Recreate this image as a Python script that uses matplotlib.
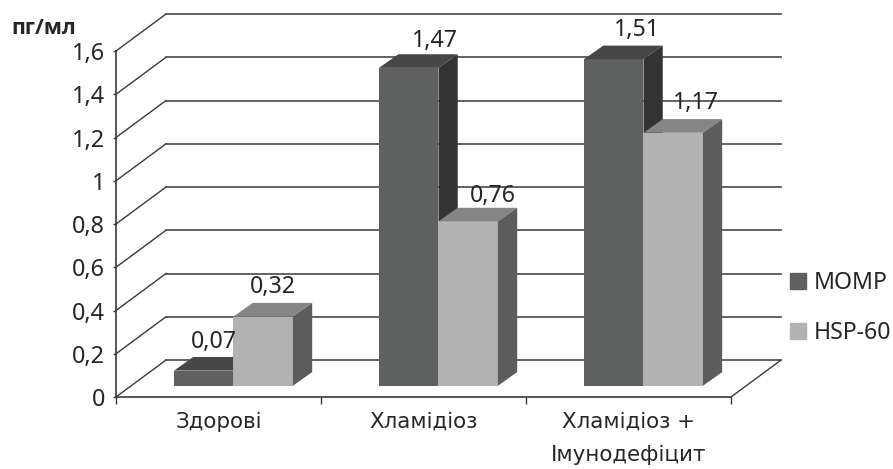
import numpy as np
import matplotlib
matplotlib.use("Agg")
import matplotlib.pyplot as plt
from matplotlib.patches import Patch

categories = ["Здорові", "Хламідіоз", "Хламідіоз +\nІмунодефіцит"]
momp = [0.07, 1.47, 1.51]
hsp60 = [0.32, 0.76, 1.17]
momp_labels = ["0,07", "1,47", "1,51"]
hsp60_labels = ["0,32", "0,76", "1,17"]
y_ticks = [0, 0.2, 0.4, 0.6, 0.8, 1, 1.2, 1.4, 1.6]
y_tick_labels = ["0", "0,2", "0,4", "0,6", "0,8", "1", "1,2", "1,4", "1,6"]

# colours: front, top, side
MOMP_COL = ("#5f6160", "#474747", "#333333")
HSP_COL = ("#b2b2b2", "#858585", "#5c5c5c")
LINE = "#3a3a3a"
TXT = "#262626"
NUM_FONT = "Noto Sans"

# fake 3d geometry, in data units (x = category, y = value)
WALL_DX, WALL_DY = 0.244, 0.171
INSET_DX, INSET_DY = 0.073, 0.052
DEPTH_DX, DEPTH_DY = 0.094, 0.063
BAR_W = 0.29

W, H = 893, 469
fig = plt.figure(figsize=(W / 100, H / 100), dpi=100)
ax = fig.add_axes([116 / W, 1 - 397 / H, 615 / W, 346 / H])
ax.set_xlim(0, 3)
ax.set_ylim(0, 1.6)
ax.patch.set_visible(False)
for s in ["top", "right"]:
    ax.spines[s].set_visible(False)
for s in ["left", "bottom"]:
    ax.spines[s].set_color(LINE)
    ax.spines[s].set_linewidth(1.2)


def bar3d(x, val, cols, z):
    y0 = INSET_DY
    y1 = y0 + val
    ax.fill([x, x + BAR_W, x + BAR_W, x], [y0, y0, y1, y1], color=cols[0], lw=0, zorder=z, clip_on=False)
    ax.fill([x, x + BAR_W, x + BAR_W + DEPTH_DX, x + DEPTH_DX], [y1, y1, y1 + DEPTH_DY, y1 + DEPTH_DY],
            color=cols[1], lw=0, zorder=z, clip_on=False)
    ax.fill([x + BAR_W, x + BAR_W + DEPTH_DX, x + BAR_W + DEPTH_DX, x + BAR_W],
            [y0, y0 + DEPTH_DY, y1 + DEPTH_DY, y1], color=cols[2], lw=0, zorder=z, clip_on=False)


# back wall lines and the slanted side wall
for t in y_ticks:
    ax.plot([0, WALL_DX], [t, t + WALL_DY], color=LINE, lw=1.0, clip_on=False, zorder=1)
    ax.plot([WALL_DX, 3 + WALL_DX], [t + WALL_DY, t + WALL_DY], color="#484848", lw=1.2, clip_on=False, zorder=1)
ax.plot([3, 3 + WALL_DX], [0, WALL_DY], color=LINE, lw=1.0, clip_on=False, zorder=1)

# bars, back to front
centers = np.arange(len(categories)) + 0.5 + INSET_DX
for i, c in enumerate(centers):
    bar3d(c - BAR_W, momp[i], MOMP_COL, 3 + i)
    bar3d(c, hsp60[i], HSP_COL, 3.5 + i)

# value labels, nudged in pixels from the top of each bar
momp_dx = [10, 26, 23]
momp_dy = [29, 27, 29]
hsp_dx = [10, 25, 23]
hsp_dy = [30, 25, 30]
for i, c in enumerate(centers):
    ax.annotate(momp_labels[i], (c - BAR_W / 2, INSET_DY + momp[i]), xytext=(momp_dx[i] * 0.72, momp_dy[i] * 0.72),
                textcoords="offset points", ha="center", va="center", fontsize=16.7,
                family=NUM_FONT, color=TXT, zorder=10, annotation_clip=False)
    ax.annotate(hsp60_labels[i], (c + BAR_W / 2, INSET_DY + hsp60[i]), xytext=(hsp_dx[i] * 0.72, hsp_dy[i] * 0.72),
                textcoords="offset points", ha="center", va="center", fontsize=16.7,
                family=NUM_FONT, color=TXT, zorder=10, annotation_clip=False)

# axes ticks
ax.set_yticks(y_ticks)
ax.set_yticklabels(y_tick_labels, family=NUM_FONT, fontsize=16.8, color=TXT)
ax.tick_params(axis="y", length=2.4, width=1.0, color=LINE, pad=5.5)
ax.set_xticks([0, 1, 2, 3])
ax.set_xticklabels([])
ax.tick_params(axis="x", which="major", length=5, width=1.0, color=LINE)
ax.set_xticks([0.5, 1.5, 2.5], minor=True)
ax.set_xticklabels(categories, minor=True, family="DejaVu Sans", fontsize=15.4, color=TXT, linespacing=1.85)
ax.tick_params(axis="x", which="minor", length=0, pad=10.5)

fig.text(11 / W, 1 - 28 / H, "пг/мл", family="Open Sans", fontsize=15.4, fontweight="bold",
         color=TXT, ha="left", va="center")

handles = [Patch(color=MOMP_COL[0], label="MOMP"), Patch(color=HSP_COL[0], label="HSP-60")]
fig.legend(handles=handles, loc="center left", bbox_to_anchor=(790 / W, 1 - 308 / H), frameon=False,
           prop={"family": NUM_FONT, "size": 16.6}, labelcolor=TXT, handlelength=0.7, handleheight=0.7,
           handletextpad=0.31, labelspacing=1.12, borderpad=0, borderaxespad=0)

fig.savefig("out.png", dpi=100)
